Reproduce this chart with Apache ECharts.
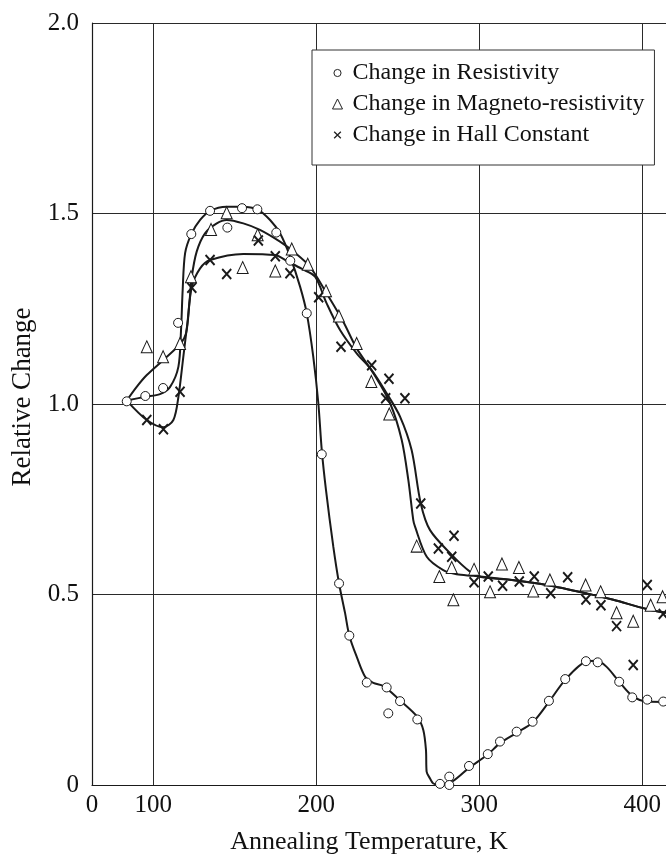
<!DOCTYPE html>
<html>
<head>
<meta charset="utf-8">
<title>Relative Change vs Annealing Temperature</title>
<script src="https://cdn.jsdelivr.net/npm/echarts@6/dist/echarts.min.js"></script>
<style>
  html, body { margin: 0; padding: 0; background: #fff; }
  #chart { width: 666px; height: 862px; }
</style>
</head>
<body>
<div id="chart"></div>
<script>
// axis range (the frame starts a little above 60 K, corner labelled "0")
var xMin = 62.5, xMax = 414.5;
var yTicks = [0, 0.5, 1.0, 1.5, 2.0];

var resistivityPts = [
  [83.8, 1.007], [95.2, 1.021], [106.1, 1.042], [115.3, 1.213], [123.4, 1.446],
  [134.9, 1.507], [145.5, 1.463], [154.5, 1.514], [163.9, 1.511], [175.5, 1.450],
  [184.1, 1.376], [194.2, 1.238], [203.4, 0.868], [214.0, 0.529], [220.3, 0.392],
  [231.0, 0.269], [243.2, 0.256], [244.2, 0.188], [251.4, 0.220], [262.0, 0.172],
  [275.9, 0.003], [281.6, 0.022], [281.6, 0.0], [293.7, 0.050], [305.2, 0.081],
  [312.7, 0.114], [322.9, 0.140], [332.7, 0.166], [342.7, 0.221], [352.7, 0.278],
  [365.4, 0.325], [372.6, 0.322], [385.8, 0.271], [393.8, 0.230], [403.0, 0.224],
  [412.8, 0.219]
];
var magnetoPts = [
  [96.1, 1.150], [106.1, 1.124], [116.5, 1.159], [123.2, 1.334], [135.5, 1.458],
  [145.1, 1.502], [154.9, 1.358], [164.1, 1.444], [174.9, 1.349], [185.0, 1.407],
  [194.8, 1.367], [206.0, 1.297], [213.9, 1.231], [224.8, 1.159], [233.8, 1.059],
  [244.8, 0.974], [261.6, 0.627], [275.5, 0.547], [283.1, 0.571], [284.1, 0.486],
  [296.8, 0.566], [306.6, 0.507], [313.9, 0.580], [324.3, 0.571], [333.1, 0.509],
  [343.3, 0.538], [365.2, 0.525], [374.4, 0.507], [384.2, 0.452], [394.4, 0.430],
  [405.1, 0.472], [412.4, 0.494]
];
var hallPts = [
  [96.1, 0.958], [106.3, 0.934], [116.5, 1.032], [123.7, 1.305], [134.9, 1.378],
  [145.1, 1.341], [164.5, 1.429], [174.9, 1.388], [183.9, 1.343], [201.5, 1.280],
  [215.2, 1.150], [234.0, 1.102], [242.6, 1.015], [244.6, 1.066], [254.4, 1.015],
  [264.1, 0.739], [274.9, 0.621], [283.1, 0.599], [284.5, 0.654], [296.8, 0.532],
  [305.5, 0.547], [314.3, 0.523], [324.5, 0.534], [333.7, 0.547], [343.8, 0.503],
  [354.2, 0.545], [365.4, 0.487], [374.6, 0.472], [384.2, 0.417], [394.4, 0.315],
  [403.0, 0.525], [412.8, 0.449]
];

// hand-drawn fit curves
var resistivityCurve = [
  [83.8, 1.009], [95.2, 1.019], [104.2, 1.026], [110.4, 1.045], [115.5, 1.098],
  [117.1, 1.194], [118.1, 1.299], [119.6, 1.396], [123.4, 1.446], [128.8, 1.483],
  [134.9, 1.507], [145.1, 1.518], [154.5, 1.518], [163.9, 1.511], [171.7, 1.483],
  [177.8, 1.448], [184.0, 1.387], [190.1, 1.308], [194.2, 1.238], [198.2, 1.124],
  [201.3, 1.002], [203.4, 0.879], [206.0, 0.774], [210.5, 0.625], [214.0, 0.529],
  [217.7, 0.451], [220.3, 0.392], [224.8, 0.337], [230.0, 0.284], [235.0, 0.268],
  [241.1, 0.260], [251.4, 0.222], [262.0, 0.179], [265.7, 0.144], [267.3, 0.092],
  [267.7, 0.035], [269.8, 0.017], [271.8, 0.004], [276.0, 0.0], [284.0, 0.011],
  [293.7, 0.045], [305.2, 0.080], [312.7, 0.110], [322.9, 0.137], [332.7, 0.164],
  [342.7, 0.218], [352.7, 0.276], [365.6, 0.324], [372.0, 0.326], [378.1, 0.310],
  [385.8, 0.271], [393.8, 0.234], [403.0, 0.219], [414.5, 0.218]
];
var magnetoCurve = [
  [83.8, 1.009], [89.9, 1.045], [96.1, 1.076], [106.1, 1.115], [116.5, 1.157],
  [120.2, 1.186], [122.2, 1.264], [123.7, 1.334], [126.7, 1.400], [131.8, 1.448],
  [139.0, 1.474], [145.1, 1.483], [155.3, 1.474], [165.5, 1.457], [177.8, 1.426],
  [186.0, 1.400], [196.2, 1.360], [206.4, 1.290], [216.6, 1.216], [224.8, 1.146],
  [235.0, 1.081], [245.3, 1.002], [252.4, 0.906], [256.5, 0.800], [259.5, 0.696],
  [260.6, 0.678], [267.8, 0.599], [277.9, 0.564], [286.1, 0.553], [296.3, 0.549],
  [320.0, 0.538], [341.3, 0.525], [365.8, 0.503], [382.2, 0.486], [402.6, 0.462],
  [414.5, 0.452]
];
var hallCurve = [
  [83.8, 1.009], [96.1, 0.958], [106.3, 0.939], [112.4, 0.958], [115.5, 1.019],
  [118.5, 1.124], [121.0, 1.212], [123.7, 1.308], [128.8, 1.356], [134.9, 1.378],
  [155.3, 1.394], [174.7, 1.391], [182.9, 1.373], [191.0, 1.355], [199.3, 1.334],
  [206.4, 1.264], [214.6, 1.194], [224.8, 1.133], [234.0, 1.089], [243.2, 1.028],
  [251.4, 0.967], [258.5, 0.879], [264.1, 0.739], [269.8, 0.669], [283.1, 0.604],
  [294.3, 0.560], [301.0, 0.546], [320.0, 0.538], [341.3, 0.525], [365.8, 0.503],
  [382.2, 0.486], [402.6, 0.462], [414.5, 0.452]
];

var FONT = '"Liberation Serif", "Times New Roman", serif';
var INK = '#1a1a1a';
var xMark = 'path://M0,0L10,11M10,0L0,11';

var chart = echarts.init(document.getElementById('chart'), null, {renderer: 'canvas'});

function curve(name, pts) {
    return {
        name: name,
        type: 'line',
        data: pts,
        smooth: 0.3,
        showSymbol: false,
        silent: true,
        z: 2,
        lineStyle: {color: INK, width: 2}
    };
}

chart.setOption({
    backgroundColor: '#fff',
    animation: false,
    grid: {left: 92, right: 0, top: 23, bottom: 77},
    legend: {
        orient: 'vertical',
        left: 312,
        top: 50,
        padding: [11, 10, 18, 15],
        itemGap: 7,
        itemWidth: 20,
        itemHeight: 10,
        selectedMode: false,
        backgroundColor: '#fff',
        borderColor: '#333',
        borderWidth: 1,
        borderRadius: 0,
        z: 10,
        textStyle: {fontFamily: FONT, fontSize: 24, color: '#111'},
        data: [
            {
                name: 'Change in Resistivity',
                icon: 'path://M-2,-2M12,12M10,5A5,5,0,1,1,0,5A5,5,0,1,1,10,5Z',
                itemStyle: {color: '#fff', borderColor: '#222', borderWidth: 1}
            },
            {
                name: 'Change in Magneto-resistivity',
                icon: 'path://M-5,0M15,10M5,0L10,10L0,10Z',
                itemStyle: {color: '#fff', borderColor: '#222', borderWidth: 1}
            },
            {
                name: 'Change in Hall Constant',
                icon: 'path://M-1,-1M11,11M1,1L9,9M9,1L1,9',
                itemStyle: {color: 'none', borderColor: '#222', borderWidth: 1.3}
            }
        ]
    },
    xAxis: {
        type: 'value',
        min: xMin,
        max: xMax,
        minInterval: 100,
        maxInterval: 100,
        splitNumber: 4,
        name: 'Annealing Temperature, K',
        nameLocation: 'middle',
        nameGap: 44,
        nameTextStyle: {fontFamily: FONT, fontSize: 26, color: '#111', padding: [0, 20, 0, 0]},
        axisLine: {show: true, onZero: false, lineStyle: {color: INK, width: 1.2}},
        axisTick: {show: false},
        axisLabel: {
            fontFamily: FONT, fontSize: 25, color: '#111', margin: 8,
            showMinLabel: true, showMaxLabel: false,
            formatter: function (v) {
                if (Math.abs(v - xMin) < 1e-6) return '0';
                return v % 100 === 0 ? String(v) : '';
            }
        },
        splitLine: {show: true, showMaxLine: false, lineStyle: {color: '#2a2a2a', width: 1}}
    },
    yAxis: {
        type: 'value',
        min: yTicks[0],
        max: yTicks[yTicks.length - 1],
        interval: 0.5,
        name: 'Relative Change',
        nameLocation: 'middle',
        nameGap: 54,
        nameTextStyle: {fontFamily: FONT, fontSize: 27, color: '#111', padding: [0, 0, 0, 14]},
        axisLine: {show: true, onZero: false, lineStyle: {color: INK, width: 1.2}},
        axisTick: {show: false},
        axisLabel: {
            fontFamily: FONT, fontSize: 25, color: '#111', margin: 13,
            formatter: function (v) { return v === 0 ? '0' : v.toFixed(1); }
        },
        splitLine: {show: true, lineStyle: {color: '#2a2a2a', width: 1}}
    },
    series: [
        curve('Resistivity fit', resistivityCurve),
        curve('Magneto-resistivity fit', magnetoCurve),
        curve('Hall fit', hallCurve),
        {
            name: 'Change in Magneto-resistivity',
            type: 'scatter',
            data: magnetoPts,
            symbol: 'triangle',
            symbolSize: [11, 12],
            z: 3,
            itemStyle: {color: '#fff', borderColor: INK, borderWidth: 1, opacity: 1}
        },
        {
            name: 'Change in Resistivity',
            type: 'scatter',
            data: resistivityPts,
            symbol: 'circle',
            symbolSize: 9,
            z: 4,
            itemStyle: {color: '#fff', borderColor: INK, borderWidth: 1, opacity: 1}
        },
        {
            name: 'Change in Hall Constant',
            type: 'scatter',
            data: hallPts,
            symbol: xMark,
            symbolSize: [9, 10],
            z: 5,
            itemStyle: {color: 'none', borderColor: INK, borderWidth: 2, opacity: 1}
        }
    ]
});
</script>
</body>
</html>
